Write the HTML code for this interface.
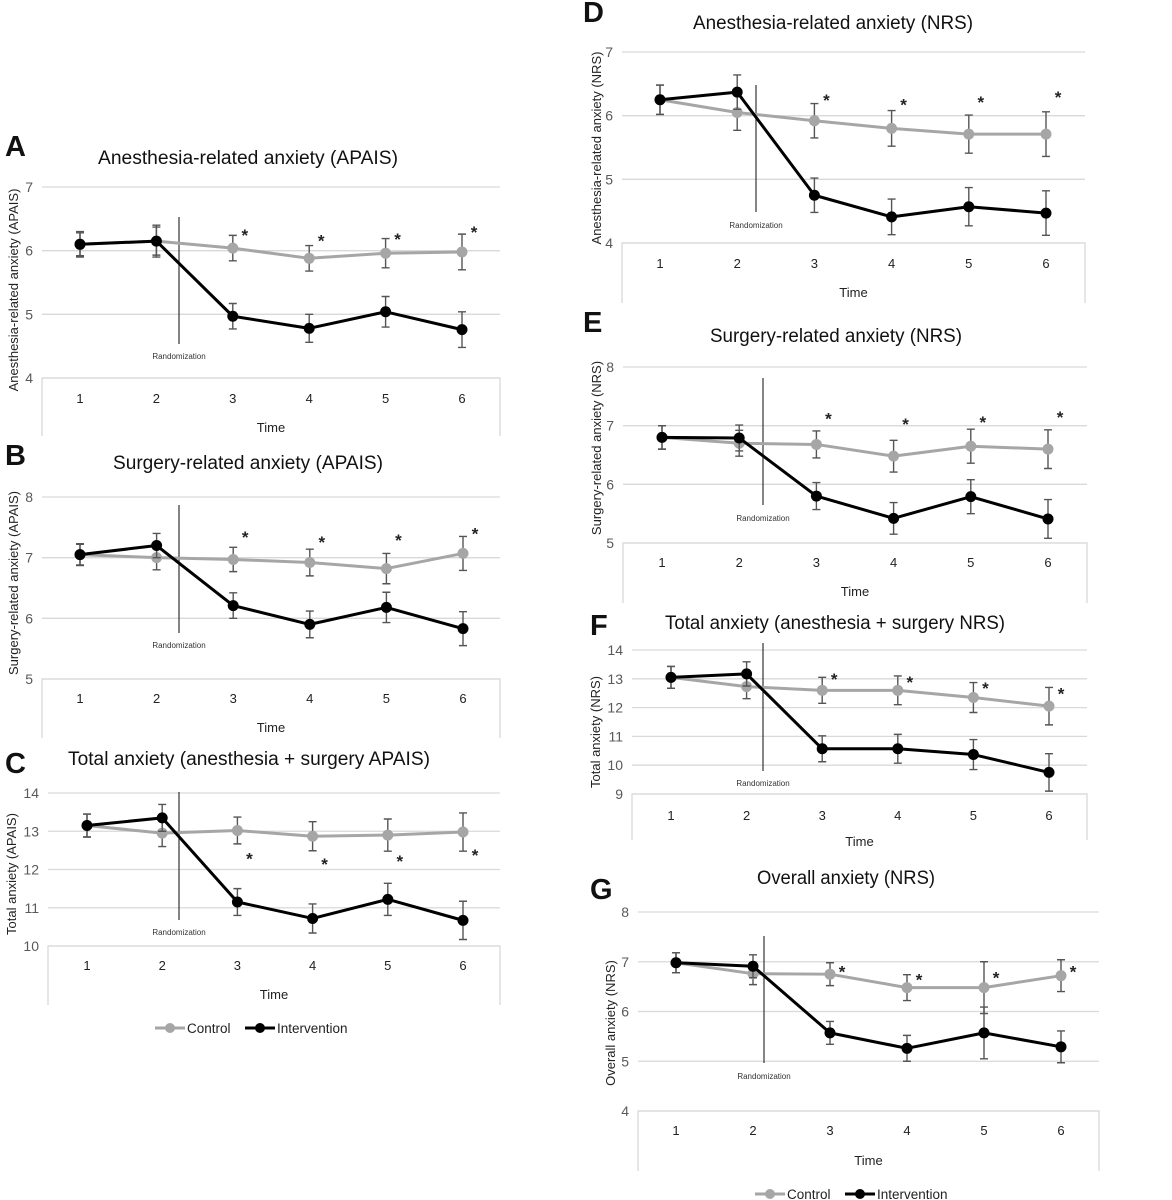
<!DOCTYPE html>
<html><head><meta charset="utf-8"><style>
html,body{margin:0;padding:0;background:#fff;}
svg{display:block;font-family:"Liberation Sans",sans-serif;}
</style></head><body>
<svg id="fig" width="1172" height="1200" viewBox="0 0 1172 1200"></svg>
<script>
// ---- data ----
const timePoints = [1,2,3,4,5,6];
const A_control = [6.1,6.15,6.04,5.88,5.96,5.98];
const A_controlErr = [0.2,0.25,0.2,0.2,0.23,0.28];
const A_interv = [6.1,6.15,4.97,4.78,5.04,4.76];
const A_intervErr = [0.18,0.22,0.2,0.22,0.24,0.28];
const A_stars = [6.29,6.21,6.23,6.34];
const A_ticks = [4,5,6,7];

const B_control = [7.05,7.0,6.97,6.92,6.82,7.07];
const B_controlErr = [0.18,0.2,0.2,0.22,0.25,0.28];
const B_interv = [7.05,7.2,6.21,5.9,6.18,5.83];
const B_intervErr = [0.17,0.2,0.21,0.22,0.25,0.28];
const B_stars = [7.39,7.31,7.34,7.45];
const B_ticks = [5,6,7,8];

const C_control = [13.15,12.95,13.02,12.87,12.9,12.98];
const C_controlErr = [0.3,0.35,0.35,0.38,0.42,0.5];
const C_interv = [13.15,13.35,11.15,10.72,11.22,10.67];
const C_intervErr = [0.3,0.35,0.35,0.38,0.42,0.5];
const C_stars = [12.36,12.22,12.3,12.46];
const C_ticks = [10,11,12,13,14];

const D_control = [6.25,6.05,5.92,5.8,5.71,5.71];
const D_controlErr = [0.23,0.28,0.27,0.28,0.3,0.35];
const D_interv = [6.25,6.37,4.75,4.41,4.57,4.47];
const D_intervErr = [0.23,0.27,0.27,0.28,0.3,0.35];
const D_stars = [6.29,6.22,6.26,6.34];
const D_ticks = [4,5,6,7];

const E_control = [6.8,6.7,6.68,6.48,6.65,6.6];
const E_controlErr = [0.2,0.22,0.23,0.27,0.29,0.33];
const E_interv = [6.8,6.79,5.8,5.42,5.79,5.41];
const E_intervErr = [0.2,0.22,0.23,0.27,0.29,0.33];
const E_stars = [7.17,7.08,7.11,7.2];
const E_ticks = [5,6,7,8];

const F_control = [13.05,12.73,12.6,12.6,12.35,12.05];
const F_controlErr = [0.38,0.42,0.45,0.5,0.52,0.65];
const F_interv = [13.05,13.17,10.57,10.57,10.37,9.75];
const F_intervErr = [0.38,0.42,0.45,0.5,0.52,0.65];
const F_stars = [13.1,12.99,12.78,12.6];
const F_ticks = [9,10,11,12,13,14];

const G_control = [6.98,6.76,6.75,6.48,6.48,6.72];
const G_controlErr = [0.2,0.22,0.23,0.26,0.52,0.32];
const G_interv = [6.98,6.91,5.57,5.26,5.57,5.29];
const G_intervErr = [0.2,0.23,0.23,0.26,0.52,0.32];
const G_stars = [6.86,6.7,6.74,6.86];
const G_ticks = [4,5,6,7,8];

const panels = [
 {id:'a',letter:'A',lx:5,ly:156,title:'Anesthesia-related anxiety (APAIS)',tx:248,ty:164,tw:300,
  ytitle:'Anesthesia-related anxiety (APAIS)',ytx:14,yty:290,
  left:42,right:500,x1:80,x6:462,yTop:187,yBot:378,boxBot:436,tickY:403,timeY:432,rx:179,rTop:217,rBot:344,rLab:359,
  control:A_control,cErr:A_controlErr,interv:A_interv,iErr:A_intervErr,stars:A_stars,ticks:A_ticks},
 {id:'b',letter:'B',lx:5,ly:465,title:'Surgery-related anxiety (APAIS)',tx:248,ty:469,tw:270,
  ytitle:'Surgery-related anxiety (APAIS)',ytx:14,yty:583,
  left:42,right:500,x1:80,x6:463,yTop:497,yBot:679,boxBot:738,tickY:703,timeY:732,rx:179,rTop:505,rBot:633,rLab:648,
  control:B_control,cErr:B_controlErr,interv:B_interv,iErr:B_intervErr,stars:B_stars,ticks:B_ticks},
 {id:'c',letter:'C',lx:5,ly:773,title:'Total anxiety (anesthesia + surgery APAIS)',tx:249,ty:765,tw:362,
  ytitle:'Total anxiety (APAIS)',ytx:12,yty:874,
  left:48,right:500,x1:87,x6:463,yTop:793,yBot:946,boxBot:1005,tickY:970,timeY:999,rx:179,rTop:792,rBot:920,rLab:935,
  control:C_control,cErr:C_controlErr,interv:C_interv,iErr:C_intervErr,stars:C_stars,ticks:C_ticks},
 {id:'d',letter:'D',lx:583,ly:22,title:'Anesthesia-related anxiety (NRS)',tx:833,ty:29,tw:280,
  ytitle:'Anesthesia-related anxiety (NRS)',ytx:597,yty:148,
  left:622,right:1085,x1:660,x6:1046,yTop:52,yBot:243,boxBot:303,tickY:268,timeY:297,rx:756,rTop:85,rBot:212,rLab:228,
  control:D_control,cErr:D_controlErr,interv:D_interv,iErr:D_intervErr,stars:D_stars,ticks:D_ticks},
 {id:'e',letter:'E',lx:583,ly:332,title:'Surgery-related anxiety (NRS)',tx:836,ty:342,tw:252,
  ytitle:'Surgery-related anxiety (NRS)',ytx:597,yty:448,
  left:623,right:1087,x1:662,x6:1048,yTop:367,yBot:543,boxBot:603,tickY:567,timeY:596,rx:763,rTop:378,rBot:505,rLab:521,
  control:E_control,cErr:E_controlErr,interv:E_interv,iErr:E_intervErr,stars:E_stars,ticks:E_ticks},
 {id:'f',letter:'F',lx:590,ly:635,title:'Total anxiety (anesthesia + surgery NRS)',tx:835,ty:629,tw:340,
  ytitle:'Total anxiety (NRS)',ytx:596,yty:732,
  left:632,right:1087,x1:671,x6:1049,yTop:650,yBot:794,boxBot:840,tickY:820,timeY:846,rx:763,rTop:643,rBot:771,rLab:786,
  control:F_control,cErr:F_controlErr,interv:F_interv,iErr:F_intervErr,stars:F_stars,ticks:F_ticks},
 {id:'g',letter:'G',lx:590,ly:899,title:'Overall anxiety (NRS)',tx:846,ty:884,tw:178,
  ytitle:'Overall anxiety (NRS)',ytx:611,yty:1023,
  left:638,right:1099,x1:676,x6:1061,yTop:912,yBot:1111,boxBot:1171,tickY:1135,timeY:1165,rx:764,rTop:936,rBot:1063,rLab:1079,
  control:G_control,cErr:G_controlErr,interv:G_interv,iErr:G_intervErr,stars:G_stars,ticks:G_ticks}
];

const NS='http://www.w3.org/2000/svg';
const svg=document.getElementById('fig');
function mk(tag,attrs,parent,txt){const e=document.createElementNS(NS,tag);for(const k in attrs)e.setAttribute(k,attrs[k]);if(txt!==undefined)e.textContent=txt;(parent||svg).appendChild(e);return e;}

panels.forEach(p=>{
  const g=mk('g',{});
  
  
  const ymin=p.ticks[0], ymax=p.ticks[p.ticks.length-1];
  const yS=v=>p.yBot-(v-ymin)/(ymax-ymin)*(p.yBot-p.yTop);
  const xS=t=>p.x1+(t-1)*(p.x6-p.x1)/5;
  const L=mk('text',{x:p.lx,y:p.ly,'font-size':29,'font-weight':'bold',fill:'#111'},g,p.letter);
  
  
  const T=mk('text',{x:p.tx,y:p.ty,'font-size':19,fill:'#111','text-anchor':'middle',textLength:p.tw,lengthAdjust:'spacingAndGlyphs'},g,p.title);
  
  
  const YT=mk('text',{x:p.ytx,y:p.yty,'font-size':13,fill:'#222','text-anchor':'middle',transform:`rotate(-90 ${p.ytx} ${p.yty})`,dy:'4'},g,p.ytitle);
  
  
  p.ticks.forEach(v=>{
    const y=yS(v);
    const gl=mk('line',{x1:p.left,x2:p.right,y1:y,y2:y,stroke:'#d9d9d9','stroke-width':1.3},g);
    
    
    const tl=mk('text',{x:p.left-9,y:y+5,'font-size':14,fill:'#595959','text-anchor':'end'},g,String(v));
    
    
  });
  const bx=mk('path',{d:`M${p.left},${p.boxBot}V${p.yBot}H${p.right}V${p.boxBot}`,fill:'none',stroke:'#d9d9d9','stroke-width':1.3},g);
  
  
  timePoints.forEach(t=>{
    const xl=mk('text',{x:xS(t),y:p.tickY,'font-size':13,fill:'#222','text-anchor':'middle'},g,String(t));
    
    
  });
  const tm=mk('text',{x:(p.left+p.right)/2,y:p.timeY,'font-size':13,fill:'#222','text-anchor':'middle'},g,'Time');
  
  
  const rl=mk('line',{x1:p.rx,x2:p.rx,y1:p.rTop,y2:p.rBot,stroke:'#333','stroke-width':1.2},g);
  
  
  const rt=mk('text',{x:p.rx,y:p.rLab,'font-size':8,fill:'#333','text-anchor':'middle'},g,'Randomization');
  
  
  [['control',p.control,p.cErr,'#a6a6a6'],['intervention',p.interv,p.iErr,'#000']].forEach(([nm,vals,errs,col])=>{
    errs.forEach((e,i)=>{
      const x=xS(timePoints[i]),y1=yS(vals[i]+e),y2=yS(vals[i]-e);
      const eb=mk('path',{d:`M${x-4},${y1}H${x+4}M${x},${y1}V${y2}M${x-4},${y2}H${x+4}`,stroke:'#555','stroke-width':1.4,fill:'none'},g);
      
      
    });
    const pl=mk('polyline',{points:vals.map((v,i)=>xS(timePoints[i])+','+yS(v)).join(' '),fill:'none',stroke:col,'stroke-width':3,'stroke-linejoin':'round'},g);
    
    
    vals.forEach((v,i)=>{
      const c=mk('circle',{cx:xS(timePoints[i]),cy:yS(v),r:5.5,fill:col},g);
      
      
    });
  });
  p.stars.forEach((v,i)=>{
    const s=mk('text',{x:xS(timePoints[i+2])+12,y:yS(v)+9,'font-size':17,'font-weight':'bold',fill:'#222','text-anchor':'middle'},g,'*');
    
    
  });
});

function legend(x,y,id){
  const g=mk('g',{});
  
  
  [['Control','#a6a6a6',0,'legend-control'],['Intervention','#000',90,'legend-intervention']].forEach(([lab,col,off,nm])=>{
    const ln=mk('line',{x1:x+off,x2:x+off+30,y1:y,y2:y,stroke:col,'stroke-width':3},g);
    
    
    const c=mk('circle',{cx:x+off+15,cy:y,r:5,fill:col},g);
    
    
    const t=mk('text',{x:x+off+32,y:y+5,'font-size':13.5,fill:'#222'},g,lab);
    
    
  });
}
legend(155,1028,'left');
legend(755,1194,'right');
</script>
</body></html>
